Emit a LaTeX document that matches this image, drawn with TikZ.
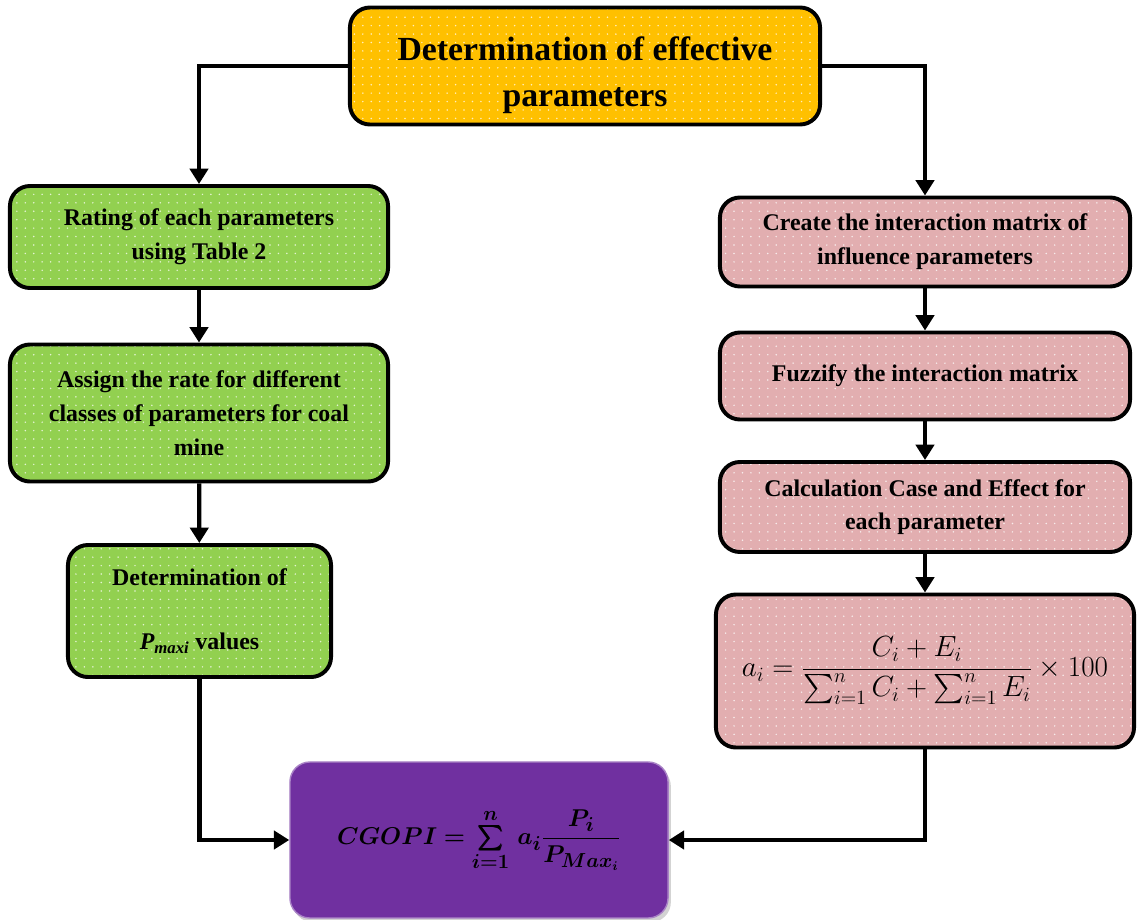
\documentclass[tikz,border=0pt]{standalone}
\usepackage{fontspec}
\setmainfont{Liberation Serif}
\usepackage{amsmath,bm}
\usetikzlibrary{arrows.meta, patterns.meta, shadows}

\definecolor{titleyellow}{HTML}{FFC000}
\definecolor{stepgreen}{HTML}{92D050}
\definecolor{steppink}{HTML}{E2AEB0}
\definecolor{resultpurple}{HTML}{7030A0}

\begin{document}
\begin{tikzpicture}[
    x=0.025cm, y=-0.025cm,
    box/.style={
      draw=black,
      line width=2.8pt,
      rounded corners=0.5cm,
      align=center,
      inner sep=4pt,
      font=\bfseries\fontsize{17}{24}\selectfont
    },
    dotfill/.style={
      preaction={fill=#1},
      pattern={Dots[distance=6pt, radius=0.6pt]},
      pattern color=white!75!#1
    },
    flow/.style={draw, line width=3pt, -{Triangle[length=11pt, width=13pt]}}
  ]
    \useasboundingbox (0,0) rectangle (1140,920);

    % top
    \node (title) [box, dotfill=titleyellow, minimum width=11.75cm, minimum height=2.925cm,
      font=\bfseries\fontsize{24}{33}\selectfont] at (585,66)
      {\rule{0pt}{30pt}Determination of effective\\parameters};

    % left branch
    \node (rate) [box, dotfill=stepgreen, minimum width=9.45cm, minimum height=2.55cm] at (199,237)
      {Rating of each parameters\\using Table 2};
    \node (assign) [box, dotfill=stepgreen, minimum width=9.45cm, minimum height=3.425cm] at (199,413)
      {Assign the rate for different\\classes of parameters for coal\\mine};
    \node (pmax) [box, dotfill=stepgreen, minimum width=6.575cm, minimum height=3.3cm] at (199.5,611)
      {Determination of\\[1.3em]{\itshape P\textsubscript{maxi}} values};

    % right branch
    \node (matrix) [box, dotfill=steppink, minimum width=10.25cm, minimum height=2.225cm] at (925,242)
      {Create the interaction matrix of\\influence parameters};
    \node (fuzzy) [box, dotfill=steppink, minimum width=10.25cm, minimum height=2.175cm] at (925,376)
      {Fuzzify the interaction matrix};
    \node (cause) [box, dotfill=steppink, minimum width=10.25cm, minimum height=2.25cm] at (925,507)
      {Calculation Case and Effect for\\each parameter};
    \node (weight) [box, dotfill=steppink, minimum width=10.45cm, minimum height=3.825cm,
      font=\fontsize{22}{26}\selectfont] at (925,671)
      {$a_i=\dfrac{C_i+E_i}{\sum_{i=1}^{n}C_i+\sum_{i=1}^{n}E_i}\times 100$};

    % result
    \node (cgopi) [draw=resultpurple!60!white, line width=1pt, fill=resultpurple, rounded corners=0.5cm,
      drop shadow={opacity=0.35, shadow xshift=2pt, shadow yshift=-3pt},
      minimum width=9.45cm, minimum height=3.9cm, font=\fontsize{19}{22}\selectfont] at (479,840)
      {$\bm{CGOPI=\sum\limits_{i=1}^{n}\,a_i\dfrac{P_i}{P_{Max_i}}}$};

    \draw[flow] (title.west) -| (rate.north);
    \draw[flow] (title.east) -| (matrix.north);
    \draw[flow] (rate) -- (assign);
    \draw[flow] (assign) -- (pmax);
    \draw[flow] (pmax.south) |- (cgopi.west);
    \draw[flow] (matrix) -- (fuzzy);
    \draw[flow] (fuzzy) -- (cause);
    \draw[flow] (cause) -- (weight);
    \draw[flow] (weight.south) |- (cgopi.east);
  \end{tikzpicture}
\end{document}
